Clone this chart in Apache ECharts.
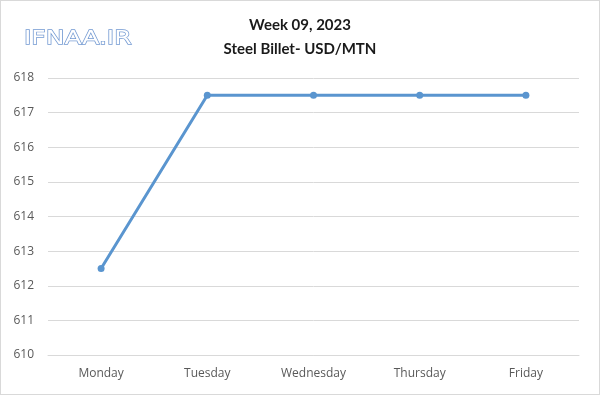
<!DOCTYPE html>
<html><head><meta charset="utf-8">
<script src="https://cdn.jsdelivr.net/npm/echarts@6/dist/echarts.min.js"></script>
<style>html,body{margin:0;padding:0;background:#fff}#c{width:600px;height:395px;box-sizing:border-box;border:1px solid #d9d9d9}</style>
</head><body><div id="c"></div>
<script>
const categories = ['Monday','Tuesday','Wednesday','Thursday','Friday'];
const prices = [612.5, 617.5, 617.5, 617.5, 617.5];
const titleLines = ['Week 09, 2023', 'Steel Billet- USD/MTN'];
const logoText = 'IFNAA.IR';
const yMin = 610, yMax = 618, yStep = 1;

const chart = echarts.init(document.getElementById('c'));
chart.setOption({
  animation: false,
  title: [{
    text: titleLines[0] + '\n' + titleLines[1],
    left: 'center', top: 7,
    textStyle: {fontFamily: 'Lato', fontWeight: 'bold', fontSize: 15, color: '#1a1a1a', lineHeight: 24}
  }],
  graphic: [{
    type: 'text', x: 23, y: 28, scaleX: 1.25, scaleY: 1,
    style: {text: logoText, font: 'normal 20px "DejaVu Sans"', fill: '#ffffff',
      stroke: '#7299d2', lineWidth: 1.3}
  }],
  grid: {left: 47, right: 20, top: 77, bottom: 39, containLabel: false},
  xAxis: {
    type: 'category', data: categories, boundaryGap: true,
    axisLine: {lineStyle: {color: '#d9d9d9'}}, axisTick: {show: false},
    axisLabel: {color: '#595959', fontFamily: 'Open Sans', fontSize: 12, margin: 13}
  },
  yAxis: {
    type: 'value', min: yMin, max: yMax, interval: yStep,
    axisLine: {show: false}, axisTick: {show: false},
    splitLine: {lineStyle: {color: '#d9d9d9'}},
    axisLabel: {color: '#595959', fontFamily: 'Open Sans', fontSize: 12, margin: 14}
  },
  series: [{
    type: 'line', data: prices, symbol: 'circle', symbolSize: 7,
    lineStyle: {color: '#5a95cf', width: 3},
    itemStyle: {color: '#5a95cf'}
  }]
});
</script></body></html>
